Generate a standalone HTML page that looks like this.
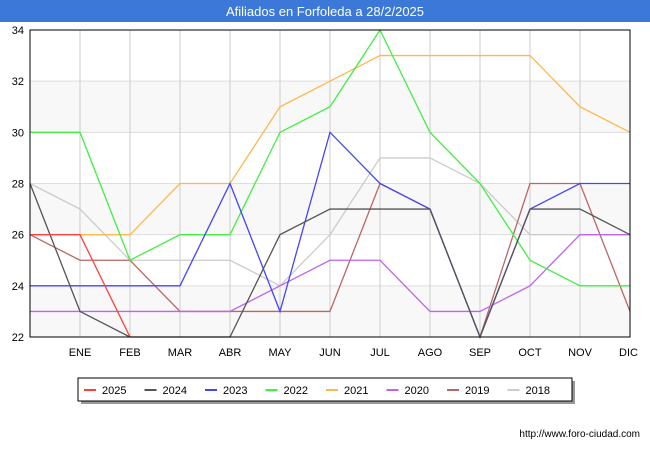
<!DOCTYPE html>
<html><head><meta charset="utf-8"><style>
body{margin:0;width:650px;height:450px;background:#fff;font-family:"Liberation Sans",sans-serif;overflow:hidden}
</style></head><body>
<svg width="650" height="450" id="c">
<rect x="0" y="0" width="650" height="22" fill="#3c78d8"/>
<text x="325" y="16" text-anchor="middle" fill="#fff" font-size="13">Afiliados en Forfoleda a 28/2/2025</text>
<g id="grid"></g><g id="series"></g>
<rect x="30" y="30" width="600" height="307" fill="none" stroke="#000" stroke-width="1"/>
<g id="axes" font-size="11" fill="#000"></g>
<rect x="81" y="381" width="494" height="23" fill="#999"/>
<rect x="78" y="378" width="494" height="23" fill="#fff" stroke="#000"/>
<g id="legend" font-size="11"></g>
<text x="640" y="437" text-anchor="end" font-size="10">http://www.foro-ciudad.com</text>
</svg>
<script>
const months=["","ENE","FEB","MAR","ABR","MAY","JUN","JUL","AGO","SEP","OCT","NOV","DIC"];
const yTicks=[22,24,26,28,30,32,34];
const years=["2025","2024","2023","2022","2021","2020","2019","2018"];
const colors=["#ff4040","#555555","#4444ff","#44ee44","#ffb84d","#bb66ee","#bb6666","#cccccc"];
const s2025=[26,26,22];
const s2024=[28,23,22,22,22,26,27,27,27,22,27,27,26];
const s2023=[24,24,24,24,28,23,30,28,27,22,27,28,28];
const s2022=[30,30,25,26,26,30,31,34,30,28,25,24,24];
const s2021=[26,26,26,28,28,31,32,33,33,33,33,31,30];
const s2020=[23,23,23,23,23,24,25,25,23,23,24,26,26];
const s2019=[26,25,25,23,23,23,23,28,27,22,28,28,23];
const s2018=[28,27,25,25,25,24,26,29,29,28,26,26,26];
const data=[s2025,s2024,s2023,s2022,s2021,s2020,s2019,s2018];
const NS="http://www.w3.org/2000/svg";
const X=i=>30+i*50, Y=v=>337-(v-22)*(307/12);
function mk(t,a,p){const e=document.createElementNS(NS,t);for(const k in a)e.setAttribute(k,a[k]);p.appendChild(e);return e;}
const g=document.getElementById('grid'),ax=document.getElementById('axes'),sg=document.getElementById('series'),lg=document.getElementById('legend');
for(let i=0;i<yTicks.length-1;i++){if(i%2==0){const b=mk('rect',{x:30,y:Y(yTicks[i+1]),width:600,height:Y(yTicks[i])-Y(yTicks[i+1]),fill:'#f8f8f8'},g);

}}
yTicks.forEach(v=>{const l=mk('line',{x1:30,x2:630,y1:Y(v),y2:Y(v),stroke:'#ddd'},g);


const t=mk('text',{x:24,y:Y(v)+4,'text-anchor':'end'},ax);t.textContent=v;

});
months.forEach((m,i)=>{if(i==0)return;const l=mk('line',{x1:X(i),x2:X(i),y1:30,y2:337,stroke:'#ccc'},g);


const t=mk('text',{x:X(i),y:356,'text-anchor':i==12?'end':'middle'},ax);if(i==12)t.setAttribute('x',X(i)+8);t.textContent=m;

});
for(let k=data.length-1;k>=0;k--){const p=mk('polyline',{points:data[k].map((v,i)=>X(i)+','+Y(v)).join(' '),fill:'none',stroke:colors[k],'stroke-width':1.3},sg);

}
years.forEach((y,k)=>{const x0=102+k*60.5;const l=mk('line',{x1:x0-18,x2:x0-6,y1:390,y2:390,stroke:colors[k],'stroke-width':2},lg);


const t=mk('text',{x:x0,y:394},lg);t.textContent=y;

});
</script>
</body></html>
